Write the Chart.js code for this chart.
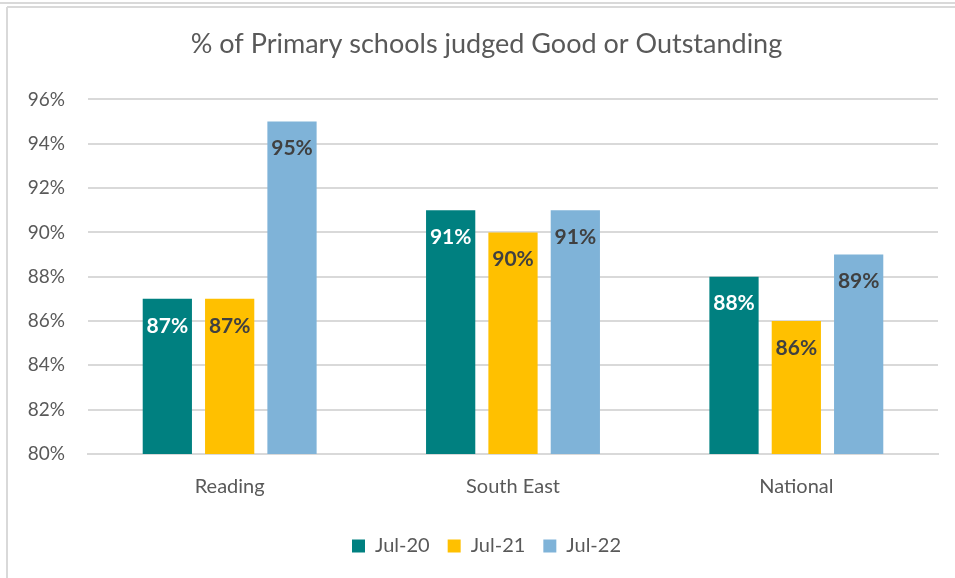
<!DOCTYPE html>
<html>
<head>
<meta charset="utf-8">
<script src="https://cdn.jsdelivr.net/npm/chart.js@4.4.1/dist/chart.umd.min.js"></script>
<style>
  html, body { margin: 0; padding: 0; background: #fff; }
  #wrap { width: 955px; height: 578px; position: relative; }
</style>
</head>
<body>
<div id="wrap"><canvas id="myChart" width="955" height="578"></canvas></div>
<script>
const areas = ['Reading', 'South East', 'National'];
const jul20 = [87, 91, 88];
const jul21 = [87, 90, 86];
const jul22 = [95, 91, 89];
const yTicks = [80, 82, 84, 86, 88, 90, 92, 94, 96];

const FONT = 'Lato, "Open Sans", sans-serif';
const GREY = '#595959';

//frame lines like the pasted picture
const framePlugin = {
    id: 'frame',
    beforeDraw(chart) {
        const ctx = chart.ctx;
        ctx.save();
        ctx.strokeStyle = '#d9d9d9';
        ctx.lineWidth = 2;
        ctx.beginPath();
        ctx.moveTo(0, 3); ctx.lineTo(955, 3);
        ctx.moveTo(7, 7); ctx.lineTo(955, 7);
        ctx.moveTo(7, 7); ctx.lineTo(7, 578);
        ctx.stroke();
        ctx.restore();
    }
};

//let the y labels run into the left padding (title and legend stay centred like excel)
const widenY = {
    id: 'widenY',
    afterLayout(chart) {
        chart.scales.y.left = 0;
    }
};

//value labels at the inside end of each bar
const labelPlugin = {
    id: 'insideLabels',
    afterDatasetsDraw(chart) {
        const ctx = chart.ctx;
        ctx.save();
        ctx.font = 'bold 21px ' + FONT;
        ctx.textAlign = 'center';
        ctx.textBaseline = 'middle';
        chart.data.datasets.forEach((ds, i) => {
            const meta = chart.getDatasetMeta(i);
            meta.data.forEach((bar, j) => {
                ctx.fillStyle = i === 0 ? '#ffffff' : '#404040';
                ctx.fillText(ds.data[j] + '%', bar.x, bar.y + 27);
            });
        });
        ctx.restore();
    }
};

const config = {
    type: 'bar',
    data: {
        labels: areas,
        datasets: [
            {label: 'Jul-20', data: jul20, backgroundColor: '#008080'},
            {label: 'Jul-21', data: jul21, backgroundColor: '#ffc000'},
            {label: 'Jul-22', data: jul22, backgroundColor: '#7fb3d8'}
        ]
    },
    options: {
        responsive: false,
        animation: false,
        categoryPercentage: 0.66,
        barPercentage: 0.79,
        layout: {padding: {left: 35, right: 17, top: 20, bottom: 12}},
        plugins: {
            title: {
                display: true,
                text: '% of Primary schools judged Good or Outstanding',
                color: GREY,
                font: {family: FONT, size: 27, weight: 'normal'},
                padding: {top: 8, bottom: 39}
            },
            legend: {
                position: 'bottom',
                labels: {
                    color: GREY,
                    font: {family: FONT, size: 20},
                    boxWidth: 13,
                    boxHeight: 13,
                    padding: 18
                }
            },
            tooltip: {enabled: false}
        },
        scales: {
            x: {
                grid: {display: false},
                border: {color: '#d9d9d9', width: 2},
                ticks: {color: GREY, font: {family: FONT, size: 20}, padding: 13},
                afterFit(axis) {
                    axis.height += 6;
                }
            },
            y: {
                min: 80,
                max: 96,
                afterBuildTicks(axis) {
                    axis.ticks = yTicks.map(v => ({value: v}));
                },
                afterFit(axis) {
                    axis.width = 53;
                },
                grid: {color: '#d9d9d9', lineWidth: 2, drawTicks: false},
                border: {display: false},
                ticks: {
                    color: GREY,
                    font: {family: FONT, size: 19},
                    padding: 23,
                    callback: v => v + '%'
                }
            }
        }
    },
    plugins: [framePlugin, widenY, labelPlugin]
};

const myChart = new Chart(
    document.getElementById('myChart').getContext('2d'),
    config
);
</script>
</body>
</html>
